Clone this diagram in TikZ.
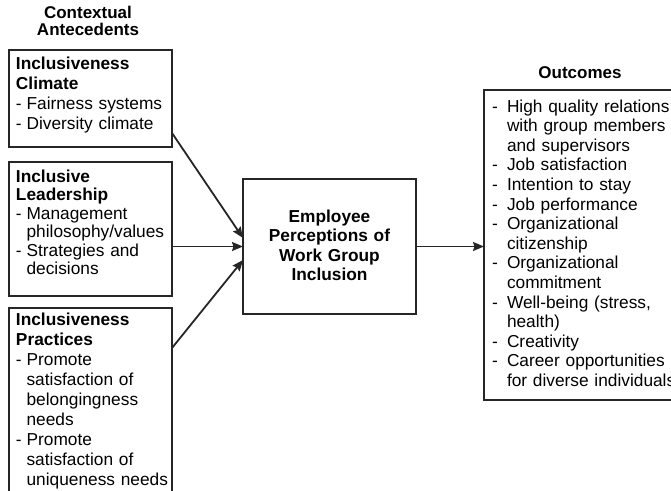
\documentclass[tikz,border=0pt]{standalone}
\usepackage{fontspec}
\setmainfont{Liberation Sans}
\usetikzlibrary{arrows.meta}
\newcommand\dl{\makebox[10.6pt][l]{-}}
\newcommand\il{\hspace*{10.6pt}}
\newcommand\dr{\makebox[15pt][l]{-}}
\newcommand\ir{\hspace*{15pt}}
\tikzset{
  box/.style={draw=black!85, line width=1.2pt, inner sep=0pt, outer sep=0pt, anchor=north west},
  txt/.style={inner sep=0pt, outer sep=0pt, anchor=base west, align=left, text width=#1},
  ctxt/.style={inner sep=0pt, outer sep=0pt, anchor=base, align=center, text width=#1},
  arr/.style={draw=black!85, line width=1.8pt, -{Stealth[length=11pt,width=9pt,inset=1.5pt]}}
}
\begin{document}
\begin{tikzpicture}[x=1pt,y=-1pt]
\useasboundingbox (0,0) rectangle (671,490);
\clip (0,0) rectangle (671,490);
% boxes
\node[box, minimum width=163pt, minimum height=97pt] (b1) at (9,50) {};
\node[box, minimum width=163pt, minimum height=134pt] (b2) at (9,162) {};
\node[box, minimum width=163pt, minimum height=220pt] (b3) at (9,308) {};
\node[box, minimum width=173pt, minimum height=135pt] (c) at (243,179) {};
\node[box, minimum width=210pt, minimum height=310pt] (out) at (484,90) {};
% headings
\node[ctxt=150pt, font=\fontsize{17}{18}\selectfont\bfseries] (h1) at (88,18) {Contextual\\[-0.5pt]Antecedents};
\node[ctxt=150pt, font=\fontsize{17}{18}\selectfont\bfseries] (h2) at (580,78) {Outcomes};
% texts
\node[txt=160pt, font=\fontsize{17.3}{20}\selectfont] (t1) at (16,69) {\textbf{Inclusiveness}\\\textbf{Climate}\\\dl Fairness systems\\\dl Diversity climate};
\node[txt=160pt, font=\fontsize{17.3}{18.5}\selectfont] (t2) at (16,182) {\textbf{Inclusive}\\\textbf{Leadership}\\\dl Management\\\il philosophy/values\\\dl Strategies and\\\il decisions};
\node[txt=160pt, font=\fontsize{17.3}{20}\selectfont] (t3) at (16,325) {\textbf{Inclusiveness}\\\textbf{Practices}\\\dl Promote\\\il satisfaction of\\\il belongingness\\\il needs\\\dl Promote\\\il satisfaction of\\\il uniqueness needs};
\node[ctxt=170pt, font=\fontsize{17.3}{19.5}\selectfont\bfseries] (tc) at (329.5,222) {Employee\\Perceptions of\\Work Group\\Inclusion};
\node[txt=210pt, font=\fontsize{17.3}{19.6}\selectfont] (to) at (492,112) {\dr High quality relations\\\ir with group members\\\ir and supervisors\\\dr Job satisfaction\\\dr Intention to stay\\\dr Job performance\\\dr Organizational\\\ir citizenship\\\dr Organizational\\\ir commitment\\\dr Well-being (stress,\\\ir health)\\\dr Creativity\\\dr Career opportunities\\\ir for diverse individuals};
% connectors
\coordinate (s1) at ([yshift=14pt]b1.south east);
\coordinate (s3) at ([yshift=-40pt]b3.north east);
\draw[arr] (s1) -- ([yshift=8.5pt]c.west);
\draw[arr] (b2.east |- c.west) -- (c.west);
\draw[arr] (s3) -- ([yshift=-13.5pt]c.west);
\draw[arr] (c.east) -- (out.west |- c.east);
\end{tikzpicture}
\end{document}
